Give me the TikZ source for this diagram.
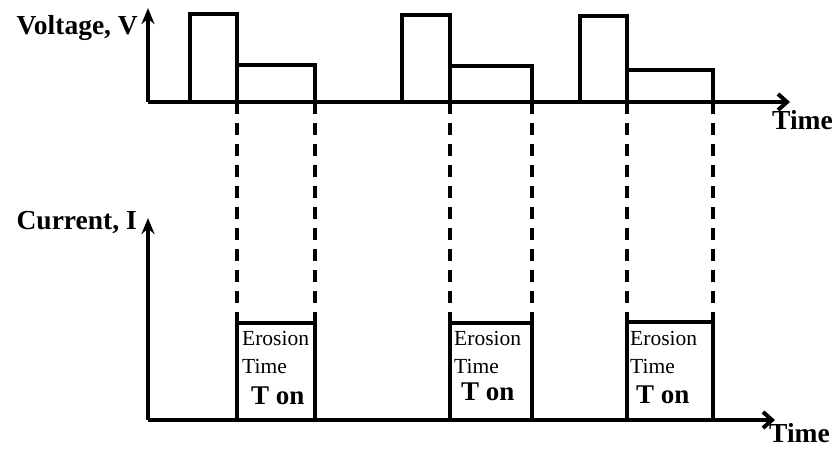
\documentclass[tikz,border=0pt]{standalone}
\usepackage{fontspec}
\setmainfont{Liberation Serif}
\usetikzlibrary{arrows.meta}

\begin{document}
\begin{tikzpicture}[
    x=1pt, y=-1pt,
    axis/.style={line width=4pt},
    uparrow/.style={-{Stealth[length=16pt, width=13pt]}},
    rightarrow/.style={-{Straight Barb[length=9pt, width=16pt]}},
    pulse/.style={line width=3.2pt, line join=miter},
    guide/.style={line width=3.2pt, dash pattern=on 12pt off 9pt},
    axislabel/.style={font=\bfseries\fontsize{27.5}{27.5}\selectfont, inner sep=0pt},
    boxtext/.style={font=\fontsize{21.5}{21.5}\selectfont, inner sep=0pt, anchor=base west},
    tontext/.style={font=\bfseries\fontsize{27}{27}\selectfont, inner sep=0pt, anchor=base west}
]
\useasboundingbox (0,0) rectangle (832,448);

% voltage axes
\coordinate (vO) at (148,102);
\coordinate (vY) at (148,8);
\coordinate (vX) at (790,102);
\draw[axis, uparrow] (vO) -- (vY);
\draw[axis, rightarrow] (vO) -- (vX);
\node[axislabel, anchor=base east] (vlabel) at (138,34) {Voltage, V};
\node[axislabel, anchor=base west] (tlabel1) at (772,129) {Time};

% current axes
\coordinate (iO) at (148,420);
\coordinate (iY) at (148,218);
\coordinate (iX) at (775,420);
\draw[axis, uparrow] (iO) -- (iY);
\draw[axis, rightarrow] (iO) -- (iX);
\node[axislabel, anchor=base east] (ilabel) at (137,229) {Current, I};
\node[axislabel, anchor=base west] (tlabel2) at (769,442) {Time};

% pulses, guides and erosion boxes
\foreach \a/\b/\c/\hi/\lo/\bx/\tx/\ty/\ox/\oy in {
    190/237/315/14/65/323/242/345/251/404,
    402/450/532/15/66/323/454/345/461/400,
    580/627/713/16/70/322/630/345/636/403} {
  \draw[pulse] (\a,102) |- (\b,\hi) -- (\b,102);
  \draw[pulse] (\b,\lo) -| (\c,102);
  \draw[guide] (\b,102) -- (\b,\bx);
  \draw[guide] (\c,102) -- (\c,\bx);
  \draw[pulse] (\b,420) |- (\c,\bx) -- (\c,420);
  \node[boxtext] at (\tx,\ty) {Erosion};
  \node[boxtext] at (\tx,\ty+28) {Time};
  \node[tontext] at (\ox,\oy) {T on};
}
\end{tikzpicture}
\end{document}
